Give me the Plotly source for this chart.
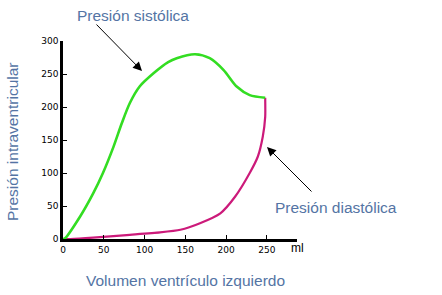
import plotly.graph_objects as go

# Data (volume in ml, pressure)
sys_vol = [0, 2.5, 21, 37, 49, 62, 72, 82, 94, 111, 129, 139.5, 162, 180, 197, 213, 229, 248]
sys_p = [0, 1, 34, 69, 100, 140, 175, 206, 231, 251, 268, 274, 280, 274, 256, 231, 218, 214]
dia_vol = [0, 9, 37, 78, 119, 144, 168, 193, 211, 229, 239, 245, 248, 248]
dia_p = [0, 0, 2, 6, 10, 14, 24, 39, 64, 100, 125, 155, 185, 214]
x_ticks = [0, 50, 100, 150, 200, 250]
y_ticks = [0, 50, 100, 150, 200, 250, 300]

TXT = "#5474a4"
GREEN = "#33dd22"
MAG = "#cc1a7a"

fig = go.Figure()
fig.add_trace(go.Scatter(x=dia_vol, y=dia_p, mode="lines",
                         line=dict(color=MAG, width=2.2, shape="spline", smoothing=0.6), hoverinfo="skip"))
fig.add_trace(go.Scatter(x=sys_vol, y=sys_p, mode="lines",
                         line=dict(color=GREEN, width=2.6, shape="spline", smoothing=0.8), hoverinfo="skip"))

axis_common = dict(showgrid=False, zeroline=False, showline=True, linecolor="black", linewidth=2.5,
                   ticks="inside", ticklen=4, tickwidth=1.2, tickcolor="black",
                   tickfont=dict(family="DejaVu Sans", size=9, color="black"))
fig.update_xaxes(range=[0, 287], tickvals=x_ticks, **axis_common)
fig.update_yaxes(range=[0, 300], tickvals=y_ticks, **axis_common)

font = dict(family="Liberation Sans, Arial", size=15.5, color=TXT)

def fx(px):
    return (px - 63) / 234.0

def fy(py):
    return (239 - py) / 198.0

anns = [
    dict(text="Presión sistólica", x=133, y=15),
    dict(text="Presión diastólica", x=336, y=207),
    dict(text="Volumen ventrículo izquierdo", x=185, y=280),
]
for a in anns:
    fig.add_annotation(text=a["text"], x=fx(a["x"]), y=fy(a["y"]), xref="paper", yref="paper",
                       showarrow=False, font=font, xanchor="center", yanchor="middle")
fig.add_annotation(text="Presión intraventricular", x=fx(12), y=fy(142), xref="paper", yref="paper",
                   showarrow=False, font=font, textangle=-90, xanchor="center", yanchor="middle")
fig.add_annotation(text="ml", x=fx(289), y=fy(239), xref="paper", yref="paper", showarrow=False,
                   xanchor="left", yanchor="top",
                   font=dict(family="Liberation Sans, Arial", size=12, color="black"))

arrows = [((95, 23), (142, 71)), ((313, 193), (267, 147))]
for (tx, ty), (hx, hy) in arrows:
    fig.add_annotation(x=fx(hx), y=fy(hy), ax=tx - hx, ay=ty - hy, xref="paper", yref="paper",
                       axref="pixel", ayref="pixel", showarrow=True, arrowhead=2, arrowsize=1.8,
                       arrowwidth=1, arrowcolor="black", text="")

fig.update_layout(width=442, height=295, margin=dict(l=63, r=145, t=41, b=56),
                  plot_bgcolor="white", paper_bgcolor="white", showlegend=False)
fig.write_html("out.html")
